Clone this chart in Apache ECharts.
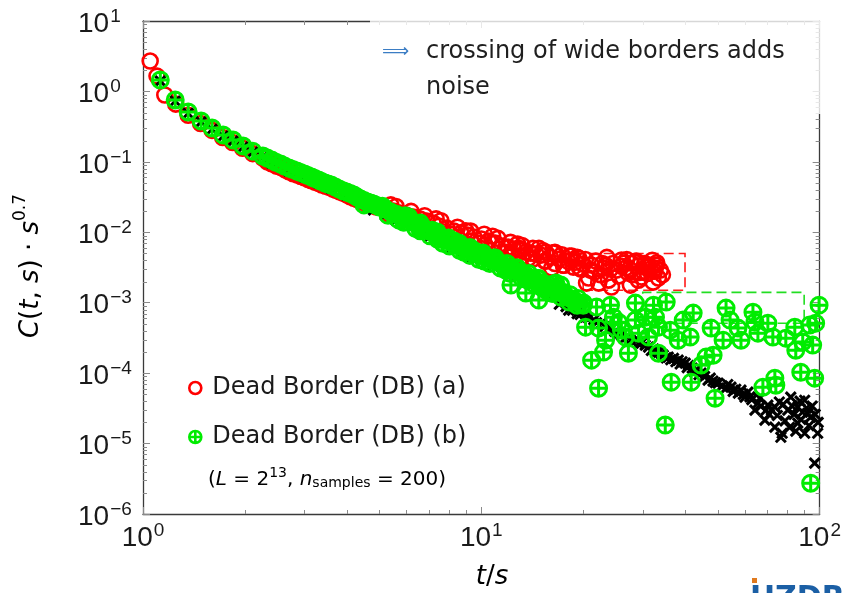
<!DOCTYPE html>
<html>
<head>
<meta charset="utf-8">
<script src="https://cdn.jsdelivr.net/npm/echarts@6/dist/echarts.min.js"></script>
<style>
  html, body { margin: 0; padding: 0; background: #fff; }
  #main { width: 844px; height: 593px; }
</style>
</head>
<body>
<div id="main"></div>
<script>
// Autocorrelation C(t,s)*s^0.7 versus t/s, log-log.
// Each entry: [t/s, C(t,s)*s^0.7]

// Dead Border (DB) (a)
const redPoints = [
  [1.05, 2.70], [1.10, 1.65], [1.16, 0.89], [1.25, 0.66], [1.36, 0.46], [1.48, 0.35],
  [1.60, 0.28], [1.72, 0.222], [1.84, 0.188], [1.97, 0.156], [2.11, 0.131], [2.26, 0.113],
  [2.33, 0.100], [2.48, 0.087], [2.63, 0.077], [2.78, 0.068], [2.93, 0.062], [3.08, 0.056],
  [3.23, 0.0515], [3.38, 0.047], [3.55, 0.0435], [3.72, 0.0395], [3.90, 0.036], [4.10, 0.032],
  [4.30, 0.0292], [4.50, 0.0265], [4.70, 0.0245], [4.90, 0.0229],
  [2.40, 0.094], [2.56, 0.083], [2.70, 0.0725], [2.86, 0.065], [3.00, 0.0595], [3.15, 0.054],
  [3.30, 0.0495], [3.47, 0.045], [3.64, 0.041], [3.81, 0.0375], [4.00, 0.034], [4.20, 0.0305],
  [4.40, 0.0278], [4.60, 0.0255], [4.80, 0.0237],
  [5.10, 0.0222], [5.25, 0.0214], [5.50, 0.0200], [5.75, 0.01874], [6.00, 0.01755], [6.30, 0.01644],
  [6.60, 0.0154], [6.90, 0.01442], [7.20, 0.01351], [7.50, 0.01225], [7.90, 0.01147], [8.30, 0.0104],
  [8.70, 0.00974], [9.10, 0.00912], [9.50, 0.00855], [10.0, 0.00801], [10.5, 0.0075], [11.0, 0.00703],
  [11.5, 0.00637], [12.0, 0.00616], [12.5, 0.00577], [13.0, 0.00559], [13.5, 0.00523], [14.0, 0.00506],
  [14.5, 0.0049], [15.0, 0.00474], [16.0, 0.00444], [17.0, 0.00416], [18.0, 0.0039], [19.0, 0.00377],
  [20.0, 0.00353],
  [5.6, 0.0232], [6.45, 0.0136], [7.35, 0.0155], [8.1, 0.0094], [9.0, 0.0105], [9.8, 0.0070],
  [10.8, 0.0088], [11.8, 0.0052], [12.8, 0.0068], [13.8, 0.0043], [14.8, 0.0059], [15.5, 0.0039],
  [16.5, 0.0052], [17.5, 0.0034], [18.5, 0.0046], [19.5, 0.0031],
  [5.4, 0.0245], [6.2, 0.0198], [6.8, 0.0172], [7.6, 0.0146], [8.5, 0.0118], [9.3, 0.0104],
  [10.2, 0.0094], [11.2, 0.0082], [12.2, 0.0072], [13.2, 0.0065], [14.2, 0.0059], [15.2, 0.0055],
  [16.3, 0.0051], [17.3, 0.0048], [18.2, 0.0046], [19.2, 0.0044],
  [5.35, 0.0180], [6.15, 0.0146], [6.75, 0.0124], [7.7, 0.0102], [8.5, 0.0085], [9.3, 0.0075],
  [10.25, 0.0066], [11.25, 0.0058], [12.25, 0.0051], [13.25, 0.0046], [14.25, 0.0042], [15.4, 0.0039],
  [16.5, 0.0036], [17.5, 0.0034], [18.7, 0.0032], [19.7, 0.0030],
  [10.75, 0.00703], [12.91, 0.00593], [15.5, 0.00523], [16.15, 0.0031],
  [18.49, 0.00403], [19.41, 0.0043], [20.47, 0.0019], [20.75, 0.00224], [21.18, 0.00342], [21.6, 0.00272],
  [22.23, 0.0019], [22.8, 0.0036], [23.29, 0.00342], [23.76, 0.00209], [24.09, 0.0030], [24.25, 0.00167],
  [25.08, 0.0029], [25.95, 0.00403], [26.3, 0.00365], [26.67, 0.0031], [27.21, 0.00263], [27.58, 0.00178],
  [27.77, 0.00365], [28.34, 0.00377], [29.0, 0.0033], [29.13, 0.00209], [29.72, 0.00231], [30.16, 0.00272],
  [30.74, 0.0032], [31.2, 0.00342], [32.2, 0.00196], [32.68, 0.0031], [32.89, 0.00342], [33.36, 0.00224],
  [20.3, 0.0041], [21.0, 0.0029], [21.8, 0.0039], [22.5, 0.0025], [23.0, 0.0031], [23.5, 0.0044],
  [24.5, 0.0036], [25.5, 0.0024], [26.0, 0.0033], [26.9, 0.0041], [27.4, 0.0030], [28.0, 0.0025],
  [28.7, 0.0039], [29.4, 0.0027], [30.4, 0.0036], [31.0, 0.0026], [31.6, 0.0030], [32.0, 0.0040],
  [32.5, 0.0028], [33.0, 0.0037], [33.8, 0.0029], [34.3, 0.0025]
];

// Dead Border (DB) (b)
const greenPoints = [
  [1.125, 1.45], [1.245, 0.755], [1.36, 0.51], [1.485, 0.38], [1.60, 0.302], [1.725, 0.24],
  [1.845, 0.204], [1.975, 0.168], [2.11, 0.142], [2.26, 0.121],
  [2.4, 0.106], [2.55, 0.0931], [2.7, 0.0817], [2.85, 0.074], [3.0, 0.0671], [3.15, 0.0608],
  [3.3, 0.0551], [3.45, 0.050], [3.6, 0.0468], [3.8, 0.0411], [4.0, 0.0372], [4.2, 0.0338],
  [4.4, 0.0296], [4.6, 0.0269], [4.8, 0.0252], [5.0, 0.0228], [5.2, 0.0214], [5.4, 0.0194],
  [5.6, 0.0181], [5.8, 0.0164], [6.0, 0.0154], [6.25, 0.01396], [6.5, 0.01266], [6.75, 0.01147],
  [7.0, 0.0104], [7.3, 0.00943], [7.6, 0.00855], [7.9, 0.00775], [8.2, 0.00726], [8.5, 0.00658],
  [8.8, 0.00616], [9.1, 0.00577], [9.4, 0.00523], [9.7, 0.0049], [10.0, 0.00474], [10.4, 0.0043],
  [10.8, 0.00403], [11.2, 0.00377], [11.6, 0.00342], [12.0, 0.0032], [12.5, 0.0029], [13.0, 0.00272],
  [13.5, 0.00247], [14.0, 0.00224], [14.5, 0.00203], [15.0, 0.0019], [15.5, 0.00172], [16.0, 0.00161],
  [16.5, 0.00151], [17.0, 0.00141], [17.5, 0.00133], [18.0, 0.0012], [18.5, 0.00112], [19.0, 0.00105],
  [19.5, 0.000987], [20.0, 0.000924],
  [2.33, 0.113], [2.47, 0.099], [2.62, 0.087], [2.77, 0.078], [2.92, 0.0705], [3.07, 0.064],
  [3.22, 0.058], [3.37, 0.0525], [3.52, 0.0485], [3.7, 0.044], [3.9, 0.039], [4.1, 0.0355],
  [4.3, 0.0315], [4.5, 0.0282], [4.7, 0.026], [4.9, 0.024],
  [4.5, 0.0245], [5.1, 0.0235], [5.7, 0.0150], [6.1, 0.0165], [6.6, 0.0105], [7.15, 0.0107],
  [7.7, 0.0070], [8.3, 0.0075], [8.9, 0.0052], [9.5, 0.0055], [10.2, 0.0039], [10.9, 0.0043],
  [11.8, 0.0029], [12.7, 0.0031], [13.7, 0.0021], [14.7, 0.0022], [15.7, 0.00145], [16.8, 0.00155],
  [5.3, 0.0174], [5.9, 0.0139], [6.4, 0.0113], [7.05, 0.0089], [7.45, 0.0079], [8.05, 0.0064],
  [8.65, 0.0055], [9.25, 0.0047], [9.85, 0.0041], [10.6, 0.0036], [11.4, 0.0031], [12.2, 0.0026],
  [13.2, 0.0022], [14.2, 0.0019], [15.2, 0.0016], [16.2, 0.00135], [17.2, 0.0012], [18.2, 0.00102],
  [19.2, 0.00092],
  [5.95, 0.0172], [6.6, 0.0135], [7.4, 0.0101], [8.0, 0.0083], [8.6, 0.0070], [9.25, 0.0061],
  [10.1, 0.0051], [11.0, 0.0043], [11.9, 0.0036], [12.8, 0.0031], [13.8, 0.0026], [14.8, 0.0022],
  [15.8, 0.0018], [16.8, 0.0016], [18.3, 0.0013], [19.3, 0.00115],
  [12.23, 0.00178], [13.54, 0.00137], [14.79, 0.00109], [16.6, 0.0019], [17.17, 0.00178],
  [20.06, 0.000987], [20.33, 0.00045], [21.18, 0.000153], [21.91, 0.000866], [22.21, 0.000436],
  [22.21, 6.12e-5], [22.98, 0.000199], [23.29, 0.000294], [24.09, 0.000924], [24.58, 0.000624],
  [25.43, 0.00053], [25.95, 0.000408], [26.67, 0.000325], [27.21, 0.000192], [28.54, 0.000987],
  [28.54, 0.000566], [29.16, 0.00037], [30.57, 0.000624], [31.2, 0.000325], [32.28, 0.000924],
  [32.72, 0.000624], [33.39, 0.000192], [33.39, 0.00045], [34.97, 1.83e-5], [35.2, 0.00102],
  [36.17, 0.000408], [36.41, 7.45e-5], [38.19, 0.000294], [39.51, 0.000566], [41.44, 0.000325],
  [41.72, 7.45e-5], [42.29, 0.000712], [44.64, 0.00013], [46.18, 0.000169], [47.78, 0.000436],
  [48.43, 0.00018], [49.08, 4.41e-5], [51.83, 0.000294], [52.89, 0.000838], [54.35, 0.000566],
  [57.38, 0.000436], [58.55, 0.000294], [63.51, 0.000735], [64.38, 0.00053], [65.7, 0.00037],
  [67.96, 6.32e-5], [70.3, 0.000513], [72.72, 0.000325], [73.72, 8.49e-5], [74.22, 6.75e-5],
  [79.43, 0.000314], [84.44, 0.00045], [85.01, 0.000212], [87.94, 0.000103], [89.13, 0.000276],
  [93.46, 0.000481], [95.37, 0.00025], [96.67, 8.49e-5], [97.32, 0.000513], [99.6, 0.000924],
  [94.08, 2.74e-6]
];

// reference curve (black crosses)
const blackPoints = [
  [1.125, 1.40], [1.245, 0.73], [1.36, 0.49], [1.485, 0.37], [1.6, 0.29], [1.725, 0.232],
  [1.845, 0.197], [1.975, 0.162], [2.11, 0.137], [2.26, 0.117],
  [2.4, 0.096], [2.7, 0.074], [3.0, 0.061], [3.3, 0.050], [3.6, 0.042], [4.0, 0.0335], [4.4, 0.0267],
  [4.8, 0.0207], [5.2, 0.0176], [5.6, 0.0148], [6.0, 0.0126], [6.5, 0.0104], [7.0, 0.0085],
  [7.6, 0.0070], [8.2, 0.0060], [8.8, 0.0051], [9.4, 0.0043], [10.0, 0.0039], [10.8, 0.0033],
  [11.6, 0.0028], [12.5, 0.0024], [13.5, 0.0020], [14.5, 0.00167], [15.5, 0.00141], [16.5, 0.00124],
  [17.5, 0.00109], [18.12, 0.000785], [19.2, 0.00070], [20.33, 0.000624], [21.5, 0.00057],
  [22.67, 0.000513], [24.0, 0.00044], [25.43, 0.00037], [27.0, 0.00033], [28.54, 0.000294],
  [29.72, 0.000267], [31.2, 0.000234], [32.3, 0.00022], [33.39, 0.000199], [34.5, 0.00018],
  [35.69, 0.000169], [37.0, 0.000162], [38.19, 0.000153], [39.2, 0.000145], [40.05, 0.000139],
  [41.0, 0.000128], [42.01, 0.000118], [43.3, 0.00011], [44.64, 0.0001], [45.7, 9.0e-5],
  [46.8, 7.95e-5], [48.4, 7.7e-5], [50.1, 7.21e-5], [51.5, 6.6e-5], [52.89, 6.12e-5], [54.7, 6.32e-5],
  [56.5, 5.9e-5], [58.55, 5.73e-5], [60.15, 4.56e-5], [61.38, 5.37e-5], [63.0, 4.2e-5],
  [64.38, 2.98e-5], [65.7, 3.75e-5], [67.0, 3.4e-5], [68.89, 2.15e-5], [70.3, 3.51e-5], [72.0, 3.0e-5],
  [73.72, 3.29e-5], [73.72, 1.71e-5], [76.78, 1.23e-5], [77.5, 1.4e-5], [78.0, 3.6e-5], [80.51, 2.98e-5],
  [82.16, 4.56e-5], [84.0, 2.6e-5], [86.17, 3.29e-5], [86.17, 1.95e-5], [88.0, 2.2e-5], [90.33, 4.13e-5],
  [90.33, 1.4e-5], [92.19, 2.69e-5], [94.08, 2.37e-5], [95.0, 3.4e-5], [96.67, 5.27e-6], [98.67, 1.4e-5],
  [99.0, 2.0e-5],
  [17.0, 0.00095], [17.8, 0.00088], [18.6, 0.00078], [19.6, 0.00068], [20.8, 0.0006], [21.9, 0.00052],
  [23.2, 0.00046], [23.8, 0.00041], [24.8, 0.00039], [25.9, 0.00035], [26.5, 0.00031], [27.7, 0.00029],
  [29.2, 0.00026], [30.5, 0.00025], [31.8, 0.00021], [32.8, 0.0002], [34.0, 0.00019], [35.2, 0.000165],
  [36.3, 0.000155], [37.6, 0.000145], [38.7, 0.000135], [40.6, 0.00012], [42.6, 0.000105], [44.0, 9.5e-5],
  [47.5, 8.5e-5], [49.2, 7.3e-5], [53.5, 6.9e-5], [55.5, 5.5e-5], [57.5, 5.2e-5], [59.5, 5.0e-5],
  [62.2, 4.6e-5], [66.5, 4.4e-5], [69.5, 3.0e-5], [71.0, 2.6e-5], [75.0, 2.5e-5], [76.0, 3.9e-5],
  [79.0, 2.1e-5], [81.5, 1.7e-5], [83.0, 3.4e-5], [85.0, 1.5e-5], [87.5, 4.0e-5], [89.0, 2.8e-5],
  [91.5, 3.2e-5], [93.0, 1.8e-5], [97.0, 2.6e-5]
];

// highlighted regions: [[tMin, cMin], [tMax, cMax]]
const redBox = [[20, 0.0015], [40, 0.005]];
const greenBox = [[30, 0.00051], [90, 0.0014]];

// axis ranges and decade exponents
const xRange = [1, 100];
const yRange = [1e-6, 10];
const xDecades = [0, 1];
const yDecades = [-6, -5, -4, -3, -2, -1, 0];

const seriesNames = ['Dead Border (DB) (a)', 'Dead Border (DB) (b)'];

const FONT = 'DejaVu Sans';
const TICK_FONT = 'Liberation Sans';
const TICK_COLOR = '#8a8a8a';
const AXIS_COLOR = '#3a3a3a';

function minorValues(decades) {
  const out = [];
  decades.forEach(function (e) {
    for (let m = 2; m <= 9; m++) out.push(+(m * Math.pow(10, e)).toPrecision(3));
  });
  return out;
}
const minorX = minorValues(xDecades);
const minorY = minorValues(yDecades);

function powLabel(v) {
  const e = Math.round(Math.log10(v));
  const sup = e < 0 ? '\u2212' + (-e) : String(e);
  return '{b|10}{s|' + sup + '}';
}

const tickRich = {
  b: { fontFamily: TICK_FONT, fontSize: 28, color: '#1a1a1a', verticalAlign: 'bottom', padding: [6, 0, 0, 0] },
  s: { fontFamily: TICK_FONT, fontSize: 19, color: '#1a1a1a', verticalAlign: 'top', padding: [3, 0, 0, 1] }
};

function logAxis(range, pos, label) {
  return {
    type: 'log', logBase: 10, min: range[0], max: range[1], position: pos,
    splitNumber: 10,
    axisLine: { show: true, onZero: false, lineStyle: { color: AXIS_COLOR, width: 1.3 } },
    axisTick: { show: true, inside: true, length: 7, lineStyle: { color: TICK_COLOR, width: 1 } },
    minorTick: { show: false },
    splitLine: { show: false },
    axisLabel: label
      ? Object.assign({ show: true, formatter: powLabel, rich: tickRich }, label)
      : { show: false }
  };
}

const xMinorTicks = {
  type: 'custom', silent: true, z: 1, clip: false,
  data: minorX.map(function (v) { return [v, 1]; }),
  renderItem: function (params, api) {
    const cs = params.coordSys;
    const x = Math.round(api.coord([api.value(0), 1])[0]) + 0.5;
    return { type: 'group', children: [
      { type: 'line', shape: { x1: x, y1: cs.y + cs.height, x2: x, y2: cs.y + cs.height - 4 }, style: { stroke: TICK_COLOR, lineWidth: 1 } },
      { type: 'line', shape: { x1: x, y1: cs.y, x2: x, y2: cs.y + 4 }, style: { stroke: TICK_COLOR, lineWidth: 1 } }
    ] };
  }
};

const yMinorTicks = {
  type: 'custom', silent: true, z: 1, clip: false,
  data: minorY.map(function (v) { return [1, v]; }),
  renderItem: function (params, api) {
    const cs = params.coordSys;
    const y = Math.round(api.coord([1, api.value(1)])[1]) + 0.5;
    return { type: 'group', children: [
      { type: 'line', shape: { x1: cs.x, y1: y, x2: cs.x + 4, y2: y }, style: { stroke: TICK_COLOR, lineWidth: 1 } },
      { type: 'line', shape: { x1: cs.x + cs.width, y1: y, x2: cs.x + cs.width - 4, y2: y }, style: { stroke: TICK_COLOR, lineWidth: 1 } }
    ] };
  }
};

function boxArea(box, color) {
  return {
    silent: true,
    itemStyle: { color: 'rgba(0,0,0,0)', borderColor: color, borderWidth: 1.6, borderType: [10, 5] },
    data: [[{ coord: box[0] }, { coord: box[1] }]]
  };
}

const CIRCLE_PLUS = 'path://M0,10A10,10,0,1,1,20,10A10,10,0,1,1,0,10ZM10,0L10,20M0,10L20,10';
const CROSS = 'path://M0,0L10,10M10,0L0,10';

const chart = echarts.init(document.getElementById('main'), null, { renderer: 'canvas' });

chart.setOption({
  animation: false,
  backgroundColor: '#ffffff',
  grid: { left: 143, top: 21, width: 679, height: 493, containLabel: false },
  xAxis: [logAxis(xRange, 'bottom', { margin: 4 }), logAxis(xRange, 'top', null)],
  yAxis: [logAxis(yRange, 'left', { margin: 65, align: 'left' }), logAxis(yRange, 'right', null)],
  legend: {
    data: seriesNames,
    orient: 'vertical', left: 183, top: 371, itemGap: 25,
    itemWidth: 12, itemHeight: 12,
    itemStyle: { borderWidth: 2.6 },
    textStyle: { fontFamily: FONT, fontSize: 24, color: '#1a1a1a', padding: [0, 0, 0, 6] }
  },
  series: [
    xMinorTicks,
    yMinorTicks,
    {
      name: seriesNames[0], type: 'scatter', z: 3,
      symbol: 'circle', symbolSize: 15,
      itemStyle: { color: 'rgba(0,0,0,0)', borderColor: '#ff0000', borderWidth: 2.6, opacity: 1 },
      data: redPoints,
      markArea: boxArea(redBox, '#ff1a1a')
    },
    {
      name: 'reference', type: 'scatter', z: 4,
      symbol: CROSS, symbolSize: 10,
      itemStyle: { color: 'rgba(0,0,0,0)', borderColor: '#000000', borderWidth: 3, opacity: 1 },
      data: blackPoints
    },
    {
      name: seriesNames[1], type: 'scatter', z: 5,
      symbol: CIRCLE_PLUS, symbolSize: 16,
      itemStyle: { color: 'rgba(0,0,0,0)', borderColor: '#00ec00', borderWidth: 3, opacity: 1 },
      data: greenPoints,
      markArea: boxArea(greenBox, '#22dd22')
    }
  ],
  graphic: [
    // translucent backdrop of the note, drawn over the frame
    { type: 'rect', z: 50, silent: true, shape: { x: 370, y: 12, width: 474, height: 102 },
      style: { fill: 'rgba(255,255,255,0.8)' } },
    { type: 'text', z: 60, style: { x: 382, y: 52, text: '\u27F9', font: '19px "' + FONT + '"', fill: '#3b7dc4', verticalAlign: 'middle' } },
    { type: 'text', z: 60, style: { x: 426, y: 52, text: 'crossing of wide borders adds', font: '24px "' + FONT + '"', fill: '#1f1f1f', verticalAlign: 'middle' } },
    { type: 'text', z: 60, style: { x: 426, y: 88, text: 'noise', font: '24px "' + FONT + '"', fill: '#1f1f1f', verticalAlign: 'middle' } },
    // system size note
    { type: 'text', z: 60, style: {
        x: 327, y: 478, align: 'center', verticalAlign: 'middle',
        text: '{n|(}{i|L}{n| = 2}{sup|13}{n|, }{i|n}{sub|samples}{n| = 200)}',
        rich: {
          n: { fontFamily: FONT, fontSize: 20, color: '#1a1a1a', verticalAlign: 'bottom', padding: [4, 0, 0, 0] },
          i: { fontFamily: FONT, fontSize: 20, fontStyle: 'italic', color: '#1a1a1a', verticalAlign: 'bottom', padding: [4, 0, 0, 0] },
          sup: { fontFamily: FONT, fontSize: 14, color: '#1a1a1a', verticalAlign: 'top' },
          sub: { fontFamily: FONT, fontSize: 14, color: '#1a1a1a', verticalAlign: 'bottom' }
        }
      } },
    // axis titles
    { type: 'text', z: 60, style: {
        x: 492, y: 577, align: 'center', verticalAlign: 'middle',
        text: '{i|t}{n|/}{i|s}',
        rich: {
          i: { fontFamily: FONT, fontSize: 26, fontStyle: 'italic', color: '#1a1a1a' },
          n: { fontFamily: FONT, fontSize: 26, color: '#1a1a1a' }
        }
      } },
    { type: 'text', z: 60, x: 28, y: 266, rotation: Math.PI / 2, style: {
        x: 0, y: 0, align: 'center', verticalAlign: 'middle',
        text: '{i|C}{n|(}{i|t}{n|, }{i|s}{n|) \u00B7 }{i|s}{sup|0.7}',
        rich: {
          i: { fontFamily: FONT, fontSize: 26, fontStyle: 'italic', color: '#1a1a1a', verticalAlign: 'bottom', padding: [6, 0, 0, 0] },
          n: { fontFamily: FONT, fontSize: 26, color: '#1a1a1a', verticalAlign: 'bottom', padding: [6, 0, 0, 0] },
          sup: { fontFamily: FONT, fontSize: 17, color: '#1a1a1a', verticalAlign: 'top' }
        }
      } },
    // institute logo, cut by the lower edge
    { type: 'rect', z: 60, silent: true, shape: { x: 752, y: 578, width: 5, height: 5 }, style: { fill: '#e07a1f' } },
    { type: 'text', z: 60, style: { x: 750, y: 584, text: 'HZDR', font: 'bold 30px "' + FONT + '"', fill: '#1b5fa5', verticalAlign: 'top' } }
  ]
});
</script>
</body>
</html>
